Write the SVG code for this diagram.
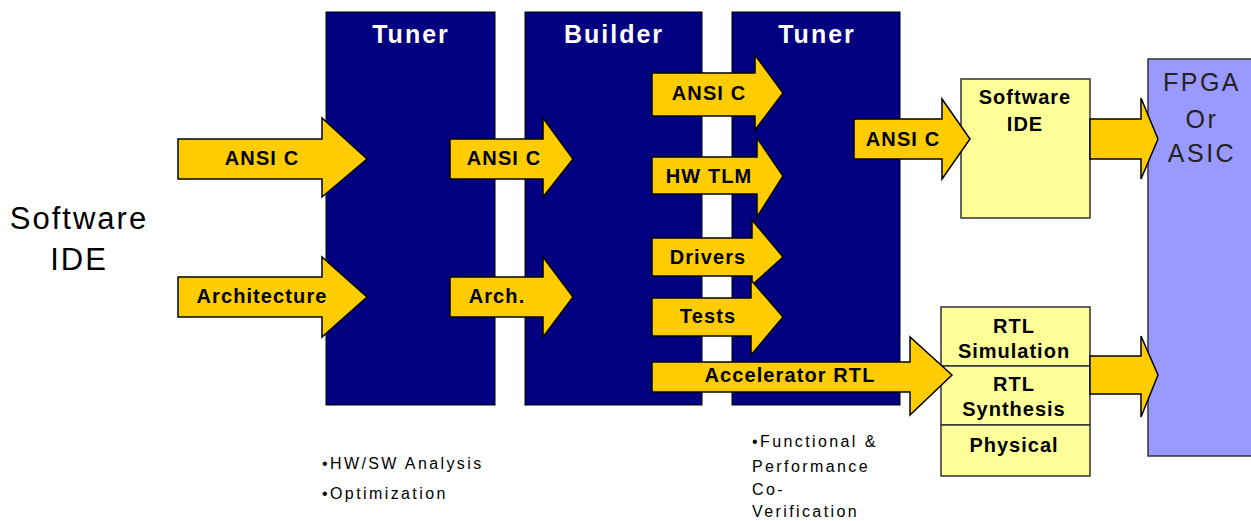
<svg xmlns="http://www.w3.org/2000/svg" width="1251" height="521" viewBox="0 0 1251 521">
<style>
.stage{fill:#000080;stroke:#000;stroke-width:1}
.title{font-family:"Liberation Sans",Arial,sans-serif;font-weight:bold;font-size:25px;letter-spacing:2px;fill:#fff;text-anchor:middle}
.arr{fill:#FFCC00;stroke:#000;stroke-width:1.5;stroke-linejoin:miter}
.lbl{font-family:"Liberation Sans",Arial,sans-serif;font-weight:bold;font-size:20px;letter-spacing:1.1px;fill:#000;text-anchor:middle}
.ybox{fill:#FFFF99;stroke:#333;stroke-width:1.5}
.ylbl{font-family:"Liberation Sans",Arial,sans-serif;font-weight:bold;font-size:20px;letter-spacing:1px;fill:#000;text-anchor:middle}
.note{font-family:"Liberation Sans",Arial,sans-serif;font-size:16px;letter-spacing:2.4px;fill:#000}
.big{font-family:"Liberation Sans",Arial,sans-serif;font-size:31px;letter-spacing:2px;fill:#000;text-anchor:middle}
.fpga{font-family:"Liberation Sans",Arial,sans-serif;font-size:25px;letter-spacing:2.5px;fill:#222;text-anchor:middle}
</style>
<rect width="1251" height="521" fill="#fff"/>
<g id="software-ide-left">
<text class="big" x="79" y="229">Software</text>
<text class="big" x="79" y="270">IDE</text>
</g>
<g id="tuner1"><rect class="stage" x="326" y="12" width="169" height="393"/><text class="title" x="411" y="43">Tuner</text></g>
<g id="builder"><rect class="stage" x="525" y="12" width="177" height="393"/><text class="title" x="614" y="43">Builder</text></g>
<g id="tuner2"><rect class="stage" x="732" y="12" width="168" height="393"/><text class="title" x="817" y="43">Tuner</text></g>
<g id="fpga"><rect x="1148" y="59" width="110" height="397" fill="#9999FF" stroke="#333" stroke-width="1.5"/>
<text class="fpga" x="1202" y="91">FPGA</text><text class="fpga" x="1202" y="128">Or</text><text class="fpga" x="1202" y="162">ASIC</text></g>
<g id="sw-ide-box"><rect class="ybox" x="961" y="79" width="129" height="139"/>
<text class="ylbl" x="1025" y="104">Software</text><text class="ylbl" x="1025" y="131">IDE</text></g>
<g id="rtl-box">
<rect class="ybox" x="941" y="307" width="149" height="59"/>
<rect class="ybox" x="941" y="366" width="149" height="59"/>
<rect class="ybox" x="941" y="425" width="149" height="51"/>
<text class="ylbl" x="1014" y="333">RTL</text><text class="ylbl" x="1014" y="358">Simulation</text>
<text class="ylbl" x="1014" y="391">RTL</text><text class="ylbl" x="1014" y="416">Synthesis</text>
<text class="ylbl" x="1014" y="452">Physical</text></g>
<g id="connectors">
<polygon class="arr" points="178,139 322,139 322,118 367,159 322,197 322,179 178,179"/>
<text class="lbl" x="262" y="165">ANSI C</text>
<polygon class="arr" points="178,277 322,277 322,257 367,297 322,337 322,317 178,317"/>
<text class="lbl" x="262" y="303">Architecture</text>
<polygon class="arr" points="450,139 543,139 543,118 573,159 543,197 543,179 450,179"/>
<text class="lbl" x="504" y="165">ANSI C</text>
<polygon class="arr" points="450,277 543,277 543,257 573,297 543,337 543,317 450,317"/>
<text class="lbl" x="497" y="303">Arch.</text>
<polygon class="arr" points="652,73 755,73 755,55 783,93 755,130 755,116 652,116"/>
<text class="lbl" x="709" y="100">ANSI C</text>
<polygon class="arr" points="652,157 757,157 757,138 783,176 757,217 757,194 652,194"/>
<text class="lbl" x="709" y="183">HW TLM</text>
<polygon class="arr" points="652,238 752,238 752,220 783,257 752,285 752,276 652,276"/>
<text class="lbl" x="708" y="264">Drivers</text>
<polygon class="arr" points="652,298 751,298 751,280 783,317 751,355 751,336 652,336"/>
<text class="lbl" x="708" y="323">Tests</text>
<polygon class="arr" points="652,362 910,362 910,337 952,375 910,415 910,392 652,392"/>
<text class="lbl" x="790" y="382">Accelerator RTL</text>
<polygon class="arr" points="854,119 942,119 942,99 970,139 942,179 942,159 854,159"/>
<text class="lbl" x="903" y="146">ANSI C</text>
<polygon class="arr" points="1090,119 1141,119 1141,98 1158,139 1141,179 1141,159 1090,159"/>
<polygon class="arr" points="1090,356 1141,356 1141,336 1158,375 1141,417 1141,394 1090,394"/>
</g>
<g id="notes">
<text class="note" x="322" y="469">•HW/SW Analysis</text>
<text class="note" x="322" y="499">•Optimization</text>
<text class="note" x="752" y="447">•Functional &amp;</text>
<text class="note" x="752" y="472">Performance</text>
<text class="note" x="752" y="495">Co-</text>
<text class="note" x="752" y="517">Verification</text>
</g>
</svg>
